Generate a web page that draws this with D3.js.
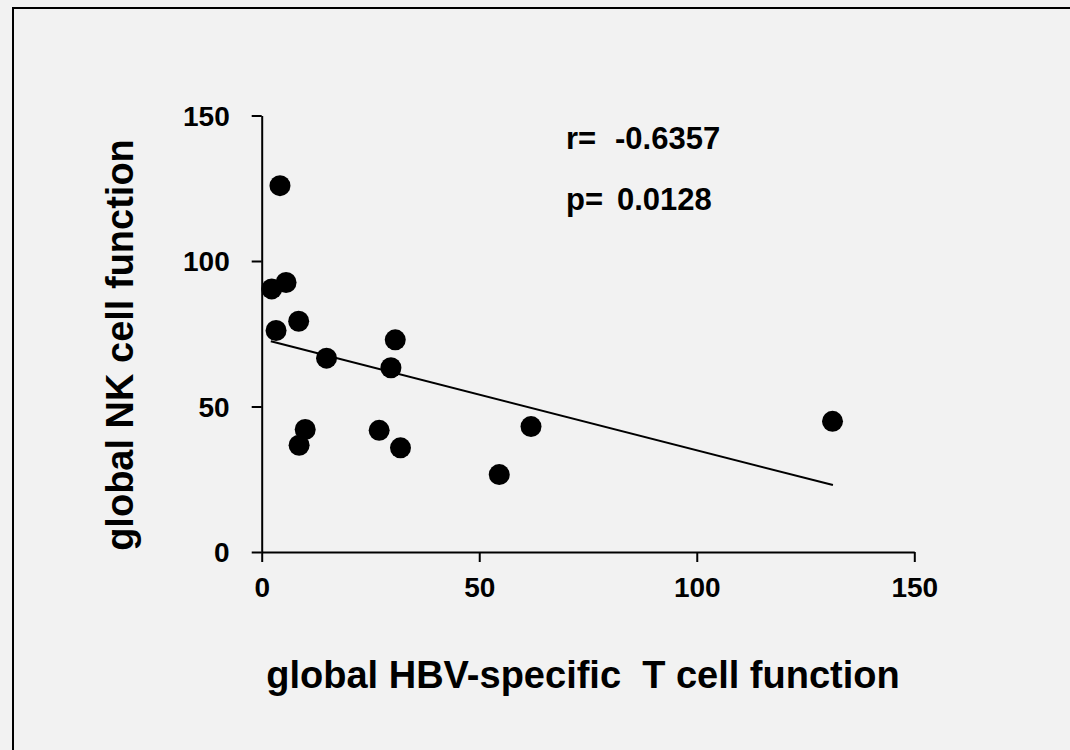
<!DOCTYPE html>
<html>
<head>
<meta charset="utf-8">
<script src="https://cdn.jsdelivr.net/npm/d3@7"></script>
<style>
  html, body { margin: 0; padding: 0; background: #f2f2f2; overflow: hidden; }
  svg { display: block; }
  text { font-family: "Liberation Sans", Arial, sans-serif; font-weight: bold; fill: #000; white-space: pre; }
</style>
</head>
<body>
<svg id="chart" width="1070" height="750"></svg>
<script>
// ---- data ----
const tCellFunction = [4.2, 2.3, 5.6, 3.3, 8.5, 14.9, 30.7, 29.7, 10.0, 8.6, 27.0, 31.9, 54.6, 61.9, 131.2];
const nkCellFunction = [125.9, 90.4, 92.6, 76.1, 79.3, 66.6, 72.9, 63.3, 42.1, 36.7, 41.8, 35.8, 26.6, 43.1, 44.9];
const fitX = [2.1, 131.3];
const fitY = [72.4, 23.0];
const xTicks = [0, 50, 100, 150];
const yTicks = [0, 50, 100, 150];
const statLabels = ["r=", "p="];
const statValues = ["-0.6357", "0.0128"];
const xTitle = "global HBV-specific  T cell function";
const yTitle = "global NK cell function";

const svg = d3.select("#chart");

// background + frame (frame runs off the right and bottom edges)
svg.append("rect").attr("x", 0).attr("y", 0).attr("width", 1070).attr("height", 750).attr("fill", "#f2f2f2");
svg.append("path").attr("d", "M13,800 L13,8 L1100,8")
  .attr("fill", "none").attr("stroke", "#000").attr("stroke-width", 2);

const x = d3.scaleLinear().domain([0, 150]).range([261.7, 914.3]);
const y = d3.scaleLinear().domain([0, 150]).range([552, 115.5]);

// axes
const xAxis = svg.append("g").attr("transform", `translate(0,${y(0)})`)
  .call(d3.axisBottom(x).tickValues(xTicks).tickSize(10).tickSizeOuter(0).tickPadding(15).tickFormat(d3.format("d")));
const yAxis = svg.append("g").attr("transform", `translate(${x(0)},0)`)
  .call(d3.axisLeft(y).tickValues(yTicks).tickSize(10).tickSizeOuter(0).tickPadding(22).tickFormat(d3.format("d")));

[xAxis, yAxis].forEach(g => {
  g.selectAll("path.domain").attr("stroke", "#000").attr("stroke-width", 2);
  g.selectAll(".tick line").attr("stroke", "#000").attr("stroke-width", 2);
  g.selectAll(".tick text").attr("font-size", 28).attr("font-family", "Liberation Sans, Arial, sans-serif")
    .attr("font-weight", "bold").attr("fill", "#000");
});
yAxis.selectAll(".tick text").attr("dy", "0.35em");

// regression line
svg.append("line")
  .attr("x1", x(fitX[0])).attr("y1", y(fitY[0]))
  .attr("x2", x(fitX[1])).attr("y2", y(fitY[1]))
  .attr("stroke", "#000").attr("stroke-width", 2);

// points
svg.append("g").selectAll("circle")
  .data(tCellFunction.map((v, i) => [v, nkCellFunction[i]]))
  .join("circle")
  .attr("cx", d => x(d[0])).attr("cy", d => y(d[1]))
  .attr("r", 10.5).attr("fill", "#000");

// statistics text
const statBase = [149, 210];
statLabels.forEach((lab, i) => {
  svg.append("text").attr("x", 566).attr("y", statBase[i]).attr("font-size", 31).text(lab);
  svg.append("text").attr("x", i === 0 ? 615 : 617).attr("y", statBase[i]).attr("font-size", 31).text(statValues[i]);
});

// axis titles
svg.append("text").attr("x", 583).attr("y", 688).attr("text-anchor", "middle")
  .attr("font-size", 38).text(xTitle);
svg.append("text").attr("transform", "translate(133,345) rotate(-90)").attr("text-anchor", "middle")
  .attr("font-size", 38).text(yTitle);
</script>
</body>
</html>
